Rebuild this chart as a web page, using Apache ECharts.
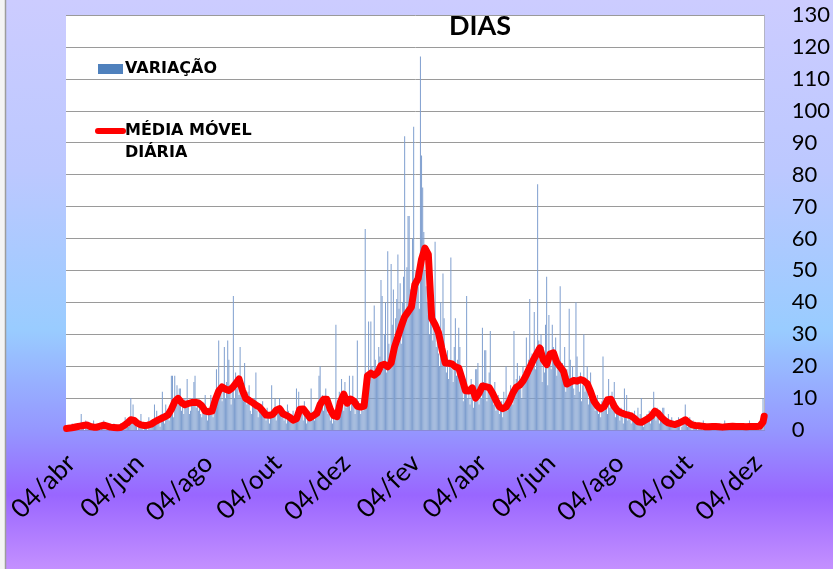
<!DOCTYPE html>
<html>
<head>
<meta charset="utf-8">
<script src="https://cdn.jsdelivr.net/npm/echarts@6/dist/echarts.min.js"></script>
<style>html,body{margin:0;padding:0;background:#fff;}#c{width:833px;height:569px;}</style>
</head>
<body>
<div id="c"></div>
<script>
// ---- data ----
const START_DATE = '2020-04-02';
const MONTHS = ['jan','fev','mar','abr','mai','jun','jul','ago','set','out','nov','dez'];
const LABEL_DAY = 4;
const LABEL_MONTHS = ['abr','jun','ago','out','dez','fev'];
const Y_MIN = 0, Y_MAX = 130, Y_STEP = 10;

// daily variation (bars)
const variacao = [
0,1,0,0,1,2,0,1,1,0,
2,1,0,5,1,2,0,3,1,2,
1,2,0,1,3,1,0,2,1,1,
0,2,1,3,1,0,2,1,0,1,
1,0,2,1,0,1,1,0,2,1,
1,2,4,2,3,1,4,10,3,8,
2,3,1,0,2,1,5,1,0,2,
1,2,0,4,1,2,3,3,8,2,
6,3,4,1,5,12,3,2,8,4,
5,3,6,17,17,4,17,9,14,8,
13,13,6,8,5,10,7,16,9,5,
6,10,8,15,17,7,9,6,8,5,
4,8,5,11,6,3,7,5,11,6,
4,6,9,19,12,28,11,14,9,13,
26,10,15,28,22,12,8,14,42,10,
18,13,16,11,26,14,12,9,21,10,
8,12,14,6,5,9,7,10,18,6,
4,8,7,5,9,6,4,3,7,5,
2,5,14,4,6,10,3,5,7,10,
6,4,7,3,5,2,8,6,3,4,
2,6,3,5,13,7,12,4,6,5,
3,9,4,2,5,6,3,13,4,6,
3,5,7,8,17,20,9,11,6,10,
13,8,5,7,3,4,2,6,3,33,
5,9,12,8,16,10,6,15,7,11,
9,17,6,10,17,8,5,7,28,9,
7,5,10,6,8,63,12,18,34,15,
34,20,16,39,22,19,17,26,23,47,
42,21,30,40,18,56,27,24,52,33,
44,29,35,41,55,38,46,27,40,48,
92,35,51,67,67,44,38,60,95,42,
50,45,48,38,117,86,76,62,50,45,
40,36,30,42,33,28,35,59,26,30,
24,20,40,28,49,35,21,18,25,16,
22,54,19,15,26,35,17,22,32,26,
14,18,9,15,12,42,10,13,8,16,
11,7,9,19,19,21,8,12,10,32,
15,25,25,9,12,18,31,10,13,8,
15,6,9,11,5,7,9,4,12,8,
20,6,11,9,14,10,8,31,12,16,
21,14,17,13,10,20,15,18,29,16,
22,41,18,24,20,37,19,26,77,28,
22,30,15,26,18,33,48,14,36,24,
19,33,26,21,29,17,22,20,45,18,
21,15,26,12,19,17,38,22,14,20,
13,11,40,23,16,12,18,9,14,30,
12,15,20,8,11,18,13,10,9,6,
7,11,5,8,4,9,23,6,8,10,
5,16,7,9,12,6,15,4,7,5,
6,3,7,4,2,13,5,11,3,6,
4,2,5,3,6,4,2,7,3,5,
10,3,1,4,2,5,3,6,2,4,
5,12,6,3,7,4,2,5,3,7,
7,4,2,3,5,1,2,4,3,1,
2,3,1,4,2,0,1,3,2,8,
3,1,2,4,1,0,3,2,1,2,
0,1,2,1,0,3,1,2,0,1,
2,1,0,1,2,0,1,1,0,2,
1,0,1,0,3,1,0,2,1,1,
0,2,1,1,0,1,2,0,1,0,
1,1,0,2,1,0,3,1,0,1,
2,1,0,1,1,0,2,1,10,3
];

// moving average, one reading every MA_STEP days
const MA_STEP = 3;
const mediaMovel = [
0.5,0.6,0.8,1.0,1.2,1.4,1.6,1.1,0.9,0.9,
1.2,1.5,1.2,0.9,0.8,0.7,0.8,1.4,2.2,3.2,
3.0,2.1,1.6,1.4,1.5,1.8,2.5,3.1,3.6,4.1,
4.7,6.5,8.9,9.9,8.6,7.9,8.3,8.6,8.7,8.5,
7.6,5.9,5.7,5.9,9.5,12.2,13.5,12.8,12.4,13.2,
14.5,16.0,12.5,9.9,9.3,8.6,7.8,7.2,6.0,4.7,
4.6,4.9,6.2,6.7,5.1,4.6,4.0,3.1,3.5,6.5,
6.6,5.2,3.8,4.5,5.2,8.0,9.6,9.6,6.5,4.5,
4.2,8.8,11.2,8.4,9.7,9.0,7.4,7.2,7.5,17.0,
17.8,17.2,18.0,20.2,20.6,19.8,21.0,26.0,29.2,32.5,
35.5,37.0,38.5,45.5,47.5,53.5,57.0,55.0,35.0,33.0,
30.5,25.5,21.0,20.9,20.7,19.8,19.4,16.0,12.3,12.2,
13.2,10.0,11.5,13.8,13.6,13.3,11.5,9.3,7.3,6.7,
7.2,9.0,11.6,13.4,14.0,15.3,17.3,19.6,21.8,23.8,
25.7,22.0,20.5,23.8,24.2,21.2,19.8,18.3,14.4,15.0,
15.5,15.3,15.8,15.4,14.5,12.0,9.0,7.5,6.6,7.3,
9.5,9.6,7.4,6.0,5.4,5.0,4.7,4.4,3.6,2.6,
2.4,3.0,3.6,4.4,5.9,5.2,3.9,2.9,2.2,1.9,
1.7,2.1,2.6,3.2,2.3,1.6,1.4,1.3,1.2,1.0,
1.0,1.1,1.1,1.0,0.9,1.0,1.1,1.2,1.1,1.1,
1.1,1.0,1.1,1.1,1.1,1.2,2.5,4.3
];

// ---- build ----
const categories = [];
(function () {
  const d0 = new Date(START_DATE + 'T00:00:00Z').getTime();
  for (let i = 0; i < variacao.length; i++) {
    categories.push(new Date(d0 + i * 86400000).toISOString().slice(0, 10));
  }
})();
function fmtDate(v) { const p = v.split('-'); return p[2] + '/' + MONTHS[+p[1] - 1]; }
function isLabelDate(v) { const p = v.split('-'); return +p[2] === LABEL_DAY && LABEL_MONTHS.indexOf(MONTHS[+p[1] - 1]) >= 0; }
const maPoints = mediaMovel.map((v, k) => [Math.min(k * MA_STEP, categories.length - 1), v]);

const SERIES_BAR = 'VARIAÇÃO';
const SERIES_LINE = 'MÉDIA MÓVEL\nDIÁRIA';

const chart = echarts.init(document.getElementById('c'), null, { renderer: 'canvas' });
chart.setOption({
  animation: false,
  backgroundColor: {
    type: 'linear', x: 0, y: 0, x2: 0, y2: 1,
    colorStops: [
      { offset: 0, color: '#CCCCFF' },
      { offset: 0.30, color: '#BCC8FF' },
      { offset: 0.58, color: '#99CCFF' },
      { offset: 0.76, color: '#9595FF' },
      { offset: 0.87, color: '#9966FF' },
      { offset: 1, color: '#C490FF' }
    ]
  },
  title: {
    text: 'DIAS', left: 444, top: 8,
    textStyle: { fontFamily: 'Lato', fontWeight: 'bold', fontSize: 27, color: '#000' }
  },
  legend: {
    left: 90, top: 53, orient: 'vertical',
    itemWidth: 25, itemHeight: 10, itemGap: 18,
    textStyle: { fontFamily: 'DejaVu Sans', fontWeight: 'bold', fontSize: 16, color: '#000', lineHeight: 22, padding: [0, 0, 0, -3] },
    formatter: function (name) { return name === SERIES_LINE ? '\u00A0\n' + name : name; },
    data: [
      { name: SERIES_BAR, icon: 'rect', itemStyle: { color: '#4F81BD' } },
      { name: SERIES_LINE, itemStyle: { opacity: 0 }, lineStyle: { width: 6, cap: 'round', color: '#FF0000' } }
    ]
  },
  grid: { left: 66, right: 68, top: 15, bottom: 139, show: true, backgroundColor: '#FFFFFF', borderWidth: 0 },
  xAxis: {
    type: 'category', data: categories, boundaryGap: true,
    axisLine: { lineStyle: { color: '#8A8AD6' } },
    axisTick: { show: false },
    axisLabel: {
      interval: (i, v) => isLabelDate(v), formatter: fmtDate,
      rotate: 45, fontFamily: 'Lato', fontSize: 26, color: '#000', margin: 31,
      padding: [0, -3, 0, 0]
    },
    splitLine: { show: false }
  },
  yAxis: {
    type: 'value', position: 'right', min: Y_MIN, max: Y_MAX, interval: Y_STEP,
    axisLine: { show: true, lineStyle: { color: '#B4B4C4' } },
    axisTick: { show: false },
    axisLabel: { fontFamily: 'Lato', fontSize: 22, color: '#000', margin: 27 },
    splitLine: { lineStyle: { color: '#9A9A9A', width: 1 } }
  },
  series: [
    {
      name: SERIES_BAR, type: 'bar', data: variacao,
      itemStyle: { color: '#7F9FCF' }, barCategoryGap: '45%'
    },
    {
      name: SERIES_LINE, type: 'line', data: maPoints, symbol: 'none', z: 3,
      itemStyle: { color: '#FF0000' },
      lineStyle: { color: '#FF0000', width: 7, cap: 'round', join: 'round' }
    }
  ],
  graphic: [
    { type: 'rect', left: 0, top: 0, shape: { width: 5, height: 569 }, style: { fill: '#F4F4F4' }, silent: true },
    { type: 'line', shape: { x1: 5.5, y1: 0, x2: 5.5, y2: 569 }, style: { stroke: '#9C9C9C', lineWidth: 1.5 }, silent: true }
  ]
});
</script>
</body>
</html>
